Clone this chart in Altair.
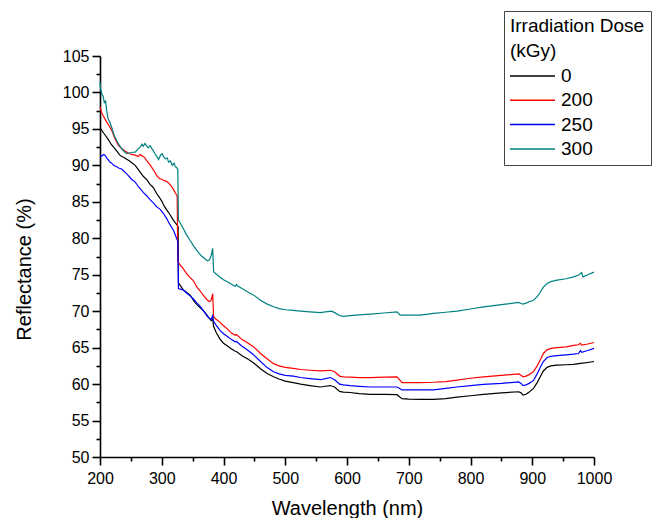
import altair as alt
import pandas as pd

FONT = "Liberation Sans"

doses = ["0", "200", "250", "300"]
colors = ["#000000", "#FF0000", "#0000FF", "#008080"]

# 0 kGy
nm_0 = [200, 202, 207, 213, 218, 222, 227, 232, 238, 246, 251, 257, 263, 270, 276, 281, 286, 292, 297, 300,
        304, 308, 313, 318, 322, 325, 326.5, 327, 331, 335, 340, 346, 352, 357, 362, 368, 373, 377, 380, 382.5,
        384, 388, 394, 400, 407, 413, 419, 422, 430, 440, 449, 460, 470, 481, 490, 500, 513, 525, 540, 557,
        565, 573, 580, 588, 594, 605, 620, 638, 660, 681, 686, 689, 700, 719, 740, 760, 778, 800, 821, 850,
        878, 882, 885, 890, 895, 902, 908, 913, 918, 924, 930, 940, 955, 967, 978, 985, 992, 1000]
r_0 = [95.2, 94.9, 94.3, 93.6, 92.9, 92.5, 92.0, 91.4, 91.1, 90.7, 90.4, 90.0, 89.3, 88.5, 88.0, 87.4, 87.0, 86.1, 85.5, 85.1,
       84.4, 83.9, 83.3, 82.6, 82.1, 81.8, 81.6, 73.9, 73.4, 72.9, 72.6, 72.2, 71.4, 70.9, 70.5, 70.0, 69.5, 69.0, 68.7, 68.9,
       67.9, 67.1, 66.2, 65.6, 65.2, 64.8, 64.5, 64.4, 63.9, 63.4, 62.9, 62.1, 61.5, 61.0, 60.7, 60.4, 60.2, 60.0, 59.8, 59.6,
       59.7, 59.8, 59.6, 59.0, 58.9, 58.85, 58.7, 58.6, 58.6, 58.55, 58.2, 58.0, 57.95, 57.9, 57.9, 58.0, 58.2, 58.4, 58.6, 58.8,
       58.95, 58.8, 58.5, 58.6, 58.9, 59.4, 60.2, 61.0, 61.8, 62.3, 62.5, 62.6, 62.65, 62.7, 62.85, 62.9, 63.0, 63.1]

# 200 kGy
nm_200 = [200, 202, 205, 208, 211, 215, 219, 224, 230, 235, 240, 246, 251, 257, 262, 265, 268, 272, 276, 280,
          284, 288, 292, 296, 300, 304, 308, 311, 315, 319, 322, 325, 326, 330, 335, 340, 346, 351, 357, 362,
          368, 373, 377, 380, 382.5, 384, 388, 394, 400, 407, 413, 419, 421, 430, 440, 449, 460, 470, 481, 490,
          500, 513, 525, 540, 557, 565, 573, 580, 588, 594, 605, 620, 638, 660, 681, 686, 689, 700, 719, 740,
          760, 778, 800, 821, 850, 878, 882, 885, 890, 895, 902, 908, 913, 918, 924, 930, 940, 955, 967, 975,
          978, 980, 990, 1000]
r_200 = [98.0, 97.4, 96.8, 96.4, 95.9, 95.4, 94.8, 93.7, 92.7, 92.3, 92.0, 91.7, 91.5, 91.4, 91.2, 91.5, 91.3, 91.1, 90.6, 90.2,
         89.7, 89.2, 88.6, 88.2, 88.1, 87.9, 87.8, 87.6, 87.2, 86.7, 86.2, 85.8, 76.8, 76.3, 75.8, 75.2, 74.6, 74.2, 73.3, 72.8,
         72.1, 71.6, 71.3, 71.5, 72.4, 69.2, 68.9, 68.5, 68.0, 67.5, 67.0, 66.7, 66.8, 66.1, 65.6, 65.1, 64.2, 63.5, 62.8, 62.5,
         62.3, 62.15, 62.0, 61.9, 61.8, 61.85, 61.9, 61.7, 61.1, 61.0, 60.95, 60.9, 60.9, 60.95, 61.0, 60.5, 60.2, 60.2, 60.2, 60.25,
         60.35, 60.55, 60.8, 61.0, 61.2, 61.4, 61.2, 61.0, 61.1, 61.3, 61.7, 62.5, 63.3, 64.2, 64.7, 64.9, 65.0, 65.1, 65.3, 65.4,
         65.6, 65.35, 65.5, 65.7]

# 250 kGy
nm_250 = [200, 203, 206, 208, 211, 214, 216, 219, 222, 227, 231, 235, 240, 246, 251, 257, 263, 270, 276, 281,
          286, 292, 297, 302, 308, 313, 319, 324, 326, 327, 331, 335, 340, 346, 351, 357, 362, 368, 373, 376,
          380, 382.5, 384, 388, 394, 400, 407, 413, 419, 421, 430, 440, 449, 460, 470, 481, 490, 500, 513, 525,
          540, 557, 565, 573, 580, 588, 594, 605, 620, 638, 660, 681, 686, 689, 700, 719, 740, 760, 778, 800,
          821, 850, 878, 882, 885, 890, 895, 902, 908, 913, 918, 924, 930, 940, 955, 967, 975, 978, 980, 990,
          1000]
r_250 = [91.2, 91.3, 91.5, 91.4, 91.0, 90.7, 90.45, 90.3, 90.0, 89.8, 89.6, 89.5, 89.1, 88.6, 88.1, 87.7, 87.0, 86.3, 85.8, 85.3,
         84.9, 84.3, 84.0, 83.5, 82.7, 81.9, 81.1, 80.0, 79.6, 73.1, 73.0, 72.9, 72.5, 72.1, 71.7, 71.1, 70.7, 70.0, 69.4, 69.1,
         68.9, 69.4, 68.6, 68.1, 67.4, 66.9, 66.5, 66.1, 65.8, 65.85, 65.2, 64.6, 64.0, 63.1, 62.3, 61.7, 61.4, 61.2, 61.1, 60.9,
         60.75, 60.6, 60.75, 60.9, 60.6, 60.0, 59.9, 59.8, 59.7, 59.6, 59.6, 59.6, 59.35, 59.2, 59.2, 59.2, 59.2, 59.4, 59.6, 59.8,
         59.95, 60.1, 60.3, 60.1, 59.8, 59.9, 60.1, 60.5, 61.4, 62.3, 63.1, 63.65, 63.8, 63.9, 64.0, 64.1, 64.2, 64.6, 64.35, 64.6,
         64.9]

# 300 kGy
nm_300 = [200, 201, 203, 205, 207, 209, 211, 213, 216, 219, 223, 227, 231, 235, 239, 243, 248, 253, 257, 261,
          265, 268, 270, 273, 276, 278, 281, 284, 286, 289, 292, 295, 298, 301, 303, 306, 309, 311, 314, 317,
          320, 322, 324, 326, 327, 330, 335, 340, 346, 352, 358, 364, 370, 374, 377, 380, 382.5, 384, 388, 394,
          400, 407, 413, 419, 421, 423, 430, 440, 449, 460, 470, 481, 490, 500, 513, 525, 540, 557, 565, 575,
          580, 588, 594, 605, 620, 638, 660, 681, 686, 700, 719, 740, 760, 778, 800, 821, 850, 878, 882, 885,
          890, 895, 902, 908, 913, 918, 924, 930, 940, 955, 967, 975, 980, 982, 990, 1000]
r_300 = [101.5, 100.5, 99.8, 99.5, 98.6, 98.8, 97.4, 96.4, 95.9, 95.2, 94.1, 93.4, 92.8, 92.3, 91.9, 91.6, 91.7, 91.8, 91.8, 92.2,
         92.5, 92.9, 92.6, 93.0, 92.6, 92.4, 92.7, 92.3, 92.05, 91.6, 91.2, 90.8, 91.4, 91.6, 91.2, 90.9, 91.0, 90.45, 90.6, 90.0,
         90.3, 89.8, 89.7, 89.4, 82.5, 82.1, 81.3, 80.5, 79.7, 78.9, 78.2, 77.6, 77.2, 76.9, 77.0, 77.6, 78.6, 75.4, 75.1, 74.7,
         74.3, 74.0, 73.7, 73.4, 73.65, 73.45, 73.1, 72.6, 72.2, 71.5, 71.0, 70.6, 70.35, 70.2, 70.1, 70.0, 69.9, 69.8, 69.9, 70.0,
         69.8, 69.4, 69.3, 69.4, 69.5, 69.6, 69.75, 69.9, 69.45, 69.45, 69.45, 69.7, 69.85, 70.0, 70.3, 70.6, 70.9, 71.2, 71.05, 70.96,
         71.1, 71.3, 71.5, 72.0, 72.6, 73.3, 73.8, 74.05, 74.25, 74.45, 74.7, 74.95, 75.3, 74.7, 75.0, 75.35]

x_major = [200, 300, 400, 500, 600, 700, 800, 900, 1000]
x_minor = [250, 350, 450, 550, 650, 750, 850, 950]
y_major = [50, 55, 60, 65, 70, 75, 80, 85, 90, 95, 100, 105]
y_minor = [52.5, 57.5, 62.5, 67.5, 72.5, 77.5, 82.5, 87.5, 92.5, 97.5, 102.5]

rows = []
for dose, xs, ys in [("0", nm_0, r_0), ("200", nm_200, r_200), ("250", nm_250, r_250), ("300", nm_300, r_300)]:
    for x, y in zip(xs, ys):
        rows.append({"Wavelength": x, "Reflectance": y, "Dose": dose})
df = pd.DataFrame(rows)

xscale = alt.Scale(domain=[200, 1000], nice=False, zero=False)
yscale = alt.Scale(domain=[50, 105], nice=False, zero=False)

lines = alt.Chart(df).mark_line(strokeWidth=1.2).encode(
    x=alt.X("Wavelength:Q", scale=xscale,
            axis=alt.Axis(values=x_major, format="d", title="Wavelength (nm)", orient="bottom",
                          tickSize=8, labelPadding=5, labelFlush=False, labelOverlap=False,
                          titleBaseline="alphabetic", titleY=57)),
    y=alt.Y("Reflectance:Q", scale=yscale,
            axis=alt.Axis(values=y_major, format="d", title="Reflectance (%)", orient="left",
                          tickSize=8, labelPadding=3, labelFlush=False, labelOverlap=False,
                          titleAngle=270, titleAlign="center",
                          titleBaseline="middle", titleX=-76, titleY=213)),
    color=alt.Color("Dose:N", scale=alt.Scale(domain=doses, range=colors),
                    sort=doses,
                    legend=alt.Legend(title=["Irradiation Dose", "(kGy)"], orient="none",
                                      legendX=404, legendY=-45, padding=6,
                                      fillColor="white", strokeColor="#444444",
                                      titleFont=FONT, titleFontSize=19, titleFontWeight="normal",
                                      titleColor="black", titleLineHeight=24.5, titlePadding=6,
                                      labelFont=FONT, labelFontSize=19, labelColor="black",
                                      symbolType="M-1.9,0H7.1", symbolSize=100, symbolStrokeWidth=1.5,
                                      labelOffset=32, rowPadding=4.3)),
)

minor = alt.Chart(df).mark_point(opacity=0).encode(
    x=alt.X("Wavelength:Q", scale=xscale,
            axis=alt.Axis(values=x_minor, orient="bottom", labels=False, domain=False, tickSize=4, title="")),
    y=alt.Y("Reflectance:Q", scale=yscale,
            axis=alt.Axis(values=y_minor, orient="left", labels=False, domain=False, tickSize=4, title="")),
)

chart = alt.layer(minor, lines).resolve_scale(x="independent", y="independent").properties(
    width=494, height=401,
    autosize=alt.AutoSizeParams(type="none"),
    padding={"left": 100, "top": 56, "right": 60, "bottom": 61},
    background="white",
).configure_view(strokeWidth=0).configure_axis(
    grid=False,
    labelFont=FONT, labelFontSize=16, labelColor="black",
    titleFont=FONT, titleFontSize=20, titleFontWeight="normal", titleColor="black",
    domainColor="black", domainWidth=1.6, tickColor="black", tickWidth=1.6,
)

chart.save("out.html", embed_options={"renderer": "svg", "actions": False})
